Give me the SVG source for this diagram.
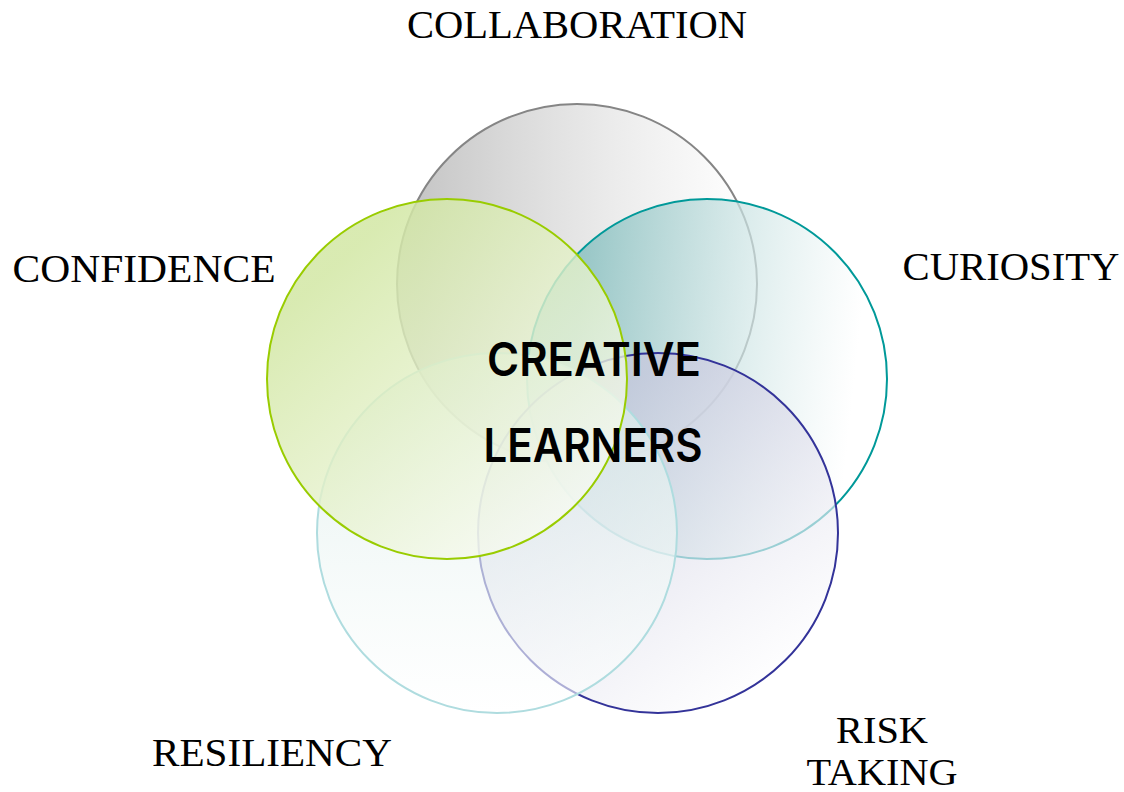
<svg xmlns="http://www.w3.org/2000/svg" width="1124" height="792" viewBox="0 0 1124 792">
<style>
.lbl{font-family:"Liberation Serif","DejaVu Serif",serif;font-size:40px;fill:#000;text-anchor:middle}
.sm{font-size:38px}
.ctr{font-family:Inter,"Liberation Sans",sans-serif;font-size:46px;font-weight:600;fill:#000;text-anchor:middle}
.c{stroke-width:2}
</style>
<defs>
<linearGradient id="gGray" gradientUnits="userSpaceOnUse" x1="420" y1="250" x2="757" y2="250">
<stop offset="0" stop-color="#c0c0c0" stop-opacity="0.9"/>
<stop offset="1" stop-color="#ffffff" stop-opacity="0.6"/>
</linearGradient>
<linearGradient id="gTeal" gradientUnits="userSpaceOnUse" x1="580" y1="300" x2="860" y2="330">
<stop offset="0" stop-color="#8cc2c2" stop-opacity="0.85"/>
<stop offset="1" stop-color="#ffffff" stop-opacity="0.6"/>
</linearGradient>
<linearGradient id="gNavy" gradientUnits="userSpaceOnUse" x1="580" y1="420" x2="770" y2="690">
<stop offset="0" stop-color="#c8c8de" stop-opacity="0.75"/>
<stop offset="1" stop-color="#ffffff" stop-opacity="0.6"/>
</linearGradient>
<linearGradient id="gRes" gradientUnits="userSpaceOnUse" x1="497" y1="380" x2="497" y2="713">
<stop offset="0" stop-color="#dcedea" stop-opacity="0.7"/>
<stop offset="1" stop-color="#ffffff" stop-opacity="0.6"/>
</linearGradient>
<linearGradient id="gGreen" gradientUnits="userSpaceOnUse" x1="330" y1="270" x2="560" y2="520">
<stop offset="0" stop-color="#d2e7a4" stop-opacity="0.85"/>
<stop offset="1" stop-color="#f8fbf2" stop-opacity="0.75"/>
</linearGradient>
</defs>
<rect width="1124" height="792" fill="#ffffff"/>
<g id="collaboration"><circle class="c" cx="577" cy="284" r="180" fill="url(#gGray)" stroke="#858585"/></g>
<g id="curiosity"><circle class="c" cx="707" cy="379" r="180" fill="url(#gTeal)" stroke="#009999"/></g>
<g id="risk-taking"><circle class="c" cx="658" cy="533" r="180" fill="url(#gNavy)" stroke="#333399"/></g>
<g id="resiliency"><circle class="c" cx="497" cy="533" r="180" fill="url(#gRes)" stroke="#afdcdf"/></g>
<g id="confidence"><circle class="c" cx="447" cy="379" r="180" fill="url(#gGreen)" stroke="#99cc00"/></g>
<g id="labels">
<text class="lbl" x="577" y="38" textLength="340" lengthAdjust="spacingAndGlyphs">COLLABORATION</text>
<text class="lbl" x="144" y="282" textLength="263" lengthAdjust="spacingAndGlyphs">CONFIDENCE</text>
<text class="lbl" x="1011" y="280" textLength="217" lengthAdjust="spacingAndGlyphs">CURIOSITY</text>
<text class="lbl" x="272" y="766" textLength="240" lengthAdjust="spacingAndGlyphs">RESILIENCY</text>
<text class="lbl sm" x="882" y="743" textLength="92" lengthAdjust="spacingAndGlyphs">RISK</text>
<text class="lbl sm" x="882" y="785" textLength="151" lengthAdjust="spacingAndGlyphs">TAKING</text>
</g>
<g id="center">
<text class="ctr" x="594" y="376" textLength="214" lengthAdjust="spacingAndGlyphs">CREATIVE</text>
<text class="ctr" x="593" y="462" textLength="219" lengthAdjust="spacingAndGlyphs">LEARNERS</text>
</g>
<g id="connectors"></g>
</svg>
